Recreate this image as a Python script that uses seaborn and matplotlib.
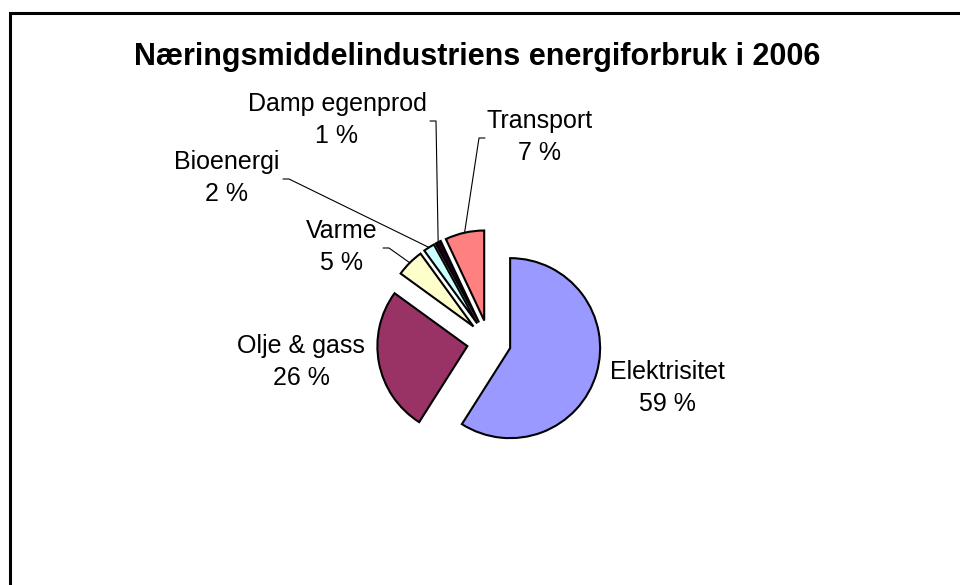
import matplotlib
matplotlib.use('Agg')
import matplotlib.pyplot as plt
import seaborn as sns
import numpy as np
from matplotlib.patches import Rectangle

# data
categories = ['Elektrisitet', 'Olje & gass', 'Varme', 'Bioenergi', 'Damp egenprod', 'Transport']
shares = [59, 26, 5, 2, 1, 7]
colors = ['#9999FF', '#993366', '#FFFFCC', '#CCFFFF', '#1A001A', '#FF8080']

# label block centres in pixels (x from left, y from top)
label_pos = [(667, 388), (301, 362), (342, 247), (227, 178), (337, 120), (540, 137)]
# which labels get a leader line and on which side of the text it starts
leader_side = [None, None, 'right', 'right', 'right', 'left']
label_half_width = [0, 0, 38, 53, 90, 52]

sns.set_theme(style='white')
plt.rcParams['font.family'] = ['Liberation Sans', 'DejaVu Sans']

W, H = 960, 585
CX, CY, R = 489, 342, 90   # pie centre and radius in pixels


def px(x, y):
    return (x - CX) / R, (CY - y) / R


fig = plt.figure(figsize=(9.6, 5.85), dpi=100)
ax = fig.add_axes([0, 0, 1, 1])

wedges, _ = ax.pie(shares, colors=colors, startangle=90, counterclock=False,
                   explode=[22 / R] * len(shares), radius=1,
                   wedgeprops=dict(edgecolor='black', linewidth=1.5))

ax.set_xlim(-CX / R, (W - CX) / R)
ax.set_ylim(-(H - CY) / R, CY / R)
ax.set_aspect('equal')
ax.axis('off')

for w, name, pct, pos, side, hw in zip(wedges, categories, shares, label_pos, leader_side, label_half_width):
    tx, ty = px(*pos)
    ax.text(tx, ty, f'{name}\n{pct} %', ha='center', va='center', fontsize=18,
            linespacing=1.4, color='black')
    if side is not None:
        mid = np.deg2rad((w.theta1 + w.theta2) / 2)
        cx, cy = w.center
        ex, ey = cx + w.r * np.cos(mid), cy + w.r * np.sin(mid)
        if side == 'right':
            x0 = pos[0] + hw + 3
            x1 = x0 + 6
        else:
            x0 = pos[0] - hw - 3
            x1 = x0 - 6
        y0 = pos[1] + 1
        p0 = px(x0, y0)
        p1 = px(x1, y0)
        ax.plot([p0[0], p1[0], ex], [p0[1], p1[1], ey], color='black', lw=0.8)

fig.text(477 / W, 1 - 57 / H, 'Næringsmiddelindustriens energiforbruk i 2006',
         ha='center', va='center', fontsize=22, fontweight='bold', color='black')

# chart area border (runs off the right and bottom edge)
fig.patches.append(Rectangle((10 / W, -0.1), 1.1, 1.1 - 13 / H,
                             transform=fig.transFigure, fill=False,
                             edgecolor='black', linewidth=2.2))

fig.savefig('out.png', dpi=100, facecolor='white')
